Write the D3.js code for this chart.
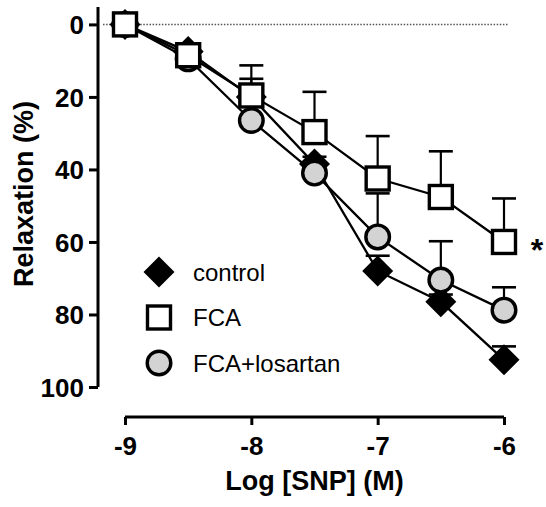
<!DOCTYPE html>
<html>
<head>
<meta charset="utf-8">
<script src="https://cdn.jsdelivr.net/npm/d3@7"></script>
<style>
  body { margin: 0; background: #fff; }
  svg { font-family: "Liberation Sans", Arial, sans-serif; }
  .tick-label { font-weight: bold; font-size: 26px; }
  .axis-title { font-weight: bold; font-size: 27px; }
  .legend-text { font-size: 24px; }
</style>
</head>
<body>
<svg id="chart"></svg>
<script>
// log concentrations of SNP
const doses = [-9, -8.5, -8, -7.5, -7, -6.5, -6];

const controlMean = [0, 7.5, 20, 38.5, 68, 76.5, 92.5];
const controlSem  = [0, 0, 5, 2, 4.2, 2, 3.7];

const fcaMean = [0, 8.5, 19.6, 29.7, 42.5, 47.6, 60];
const fcaSem  = [0, 0, 8.3, 11.1, 11.7, 12.6, 12];

const losMean = [0, 9.5, 26.5, 41, 58.6, 70.5, 78.8];
const losSem  = [0, 0, 0, 0, 12, 10.7, 6.3];

const xTicks = [-9, -8, -7, -6];
const yTicks = [0, 20, 40, 60, 80, 100];

const seriesNames = ["control", "FCA", "FCA+losartan"];

const width = 546, height = 507;

const svg = d3.select("#chart")
    .attr("width", width)
    .attr("height", height);

const x = d3.scaleLinear().domain([-9, -6]).range([125, 504]);
const y = d3.scaleLinear().domain([-4.8, 100]).range([7, 387]);

// dotted zero line
svg.append("line")
    .attr("x1", 103).attr("x2", 508)
    .attr("y1", y(0)).attr("y2", y(0))
    .attr("stroke", "#555")
    .attr("stroke-width", 1.5)
    .attr("stroke-dasharray", "1.5,1.6");

// y axis
const yAxis = d3.axisLeft(y).tickValues(yTicks).tickSize(9).tickPadding(5);
const gy = svg.append("g")
    .attr("transform", "translate(98,0)")
    .call(yAxis);
gy.select(".domain").attr("d", "M0," + y(-4.8) + "V" + y(100))
    .attr("stroke-width", 3).attr("stroke", "#000");
gy.selectAll(".tick line").attr("stroke-width", 3);
gy.selectAll(".tick text").attr("class", "tick-label").attr("dy", "0.36em")
    .attr("fill", "#000");

// x axis
const xAxis = d3.axisBottom(x).tickValues(xTicks).tickSize(8).tickPadding(12)
    .tickFormat(d => d);
const gx = svg.append("g")
    .attr("transform", "translate(0,417)")
    .call(xAxis);
gx.select(".domain").attr("d", "M" + x(-9) + ",0H" + x(-6))
    .attr("stroke-width", 3).attr("stroke", "#000");
gx.selectAll(".tick line").attr("stroke-width", 3);
gx.selectAll(".tick text").attr("class", "tick-label").attr("fill", "#000")
    .text(d => "-" + Math.abs(d));

// axis titles
svg.append("text")
    .attr("class", "axis-title")
    .attr("x", (x(-9) + x(-6)) / 2)
    .attr("y", 490)
    .attr("text-anchor", "middle")
    .text("Log [SNP] (M)");

svg.append("text")
    .attr("class", "axis-title")
    .attr("transform", "translate(33,194) rotate(-90)")
    .attr("text-anchor", "middle")
    .text("Relaxation (%)");

// symbols
const diamond = d3.symbol().type(d3.symbolSquare).size(480);
function drawMarker(g, kind, cx, cy) {
    if (kind === "diamond") {
        g.append("path")
            .attr("d", diamond())
            .attr("transform", "translate(" + cx + "," + cy + ") rotate(45)")
            .attr("fill", "#000");
    } else if (kind === "square") {
        g.append("rect")
            .attr("x", cx - 11.5).attr("y", cy - 11.5)
            .attr("width", 23).attr("height", 23)
            .attr("fill", "#fff").attr("stroke", "#000").attr("stroke-width", 3.4);
    } else {
        g.append("circle")
            .attr("cx", cx).attr("cy", cy).attr("r", 11.8)
            .attr("fill", "#d3d3d3").attr("stroke", "#000").attr("stroke-width", 3.4);
    }
}

const series = [
    { name: seriesNames[0], mean: controlMean, sem: controlSem, kind: "diamond" },
    { name: seriesNames[2], mean: losMean, sem: losSem, kind: "circle" },
    { name: seriesNames[1], mean: fcaMean, sem: fcaSem, kind: "square" }
];

const line = d3.line()
    .x(d => x(d.x))
    .y(d => y(d.y));

series.forEach(s => {
    const g = svg.append("g");
    const pts = doses.map((d, i) => ({ x: d, y: s.mean[i], e: s.sem[i] }));

    // error bars (upward)
    pts.filter(p => p.e > 0).forEach(p => {
        g.append("line")
            .attr("x1", x(p.x)).attr("x2", x(p.x))
            .attr("y1", y(p.y)).attr("y2", y(p.y - p.e))
            .attr("stroke", "#000").attr("stroke-width", 2.2);
        g.append("line")
            .attr("x1", x(p.x) - 12).attr("x2", x(p.x) + 12)
            .attr("y1", y(p.y - p.e)).attr("y2", y(p.y - p.e))
            .attr("stroke", "#000").attr("stroke-width", 2.6);
    });

    g.append("path")
        .datum(pts)
        .attr("d", line)
        .attr("fill", "none")
        .attr("stroke", "#000")
        .attr("stroke-width", 2.3);

    pts.forEach(p => drawMarker(g, s.kind, x(p.x), y(p.y)));
});

// significance mark
svg.append("text")
    .attr("x", x(-6) + 33)
    .attr("y", y(fcaMean[6]) + 19)
    .attr("text-anchor", "middle")
    .attr("font-size", "32px")
    .attr("font-weight", "bold")
    .text("*");

// legend
const legendKinds = ["diamond", "square", "circle"];
const legend = svg.append("g");
seriesNames.forEach((name, i) => {
    const ly = 272 + i * 45.5;
    drawMarker(legend, legendKinds[i], 159, ly);
    legend.append("text")
        .attr("class", "legend-text")
        .attr("x", 193)
        .attr("y", ly)
        .attr("dy", "0.36em")
        .text(name);
});
</script>
</body>
</html>
